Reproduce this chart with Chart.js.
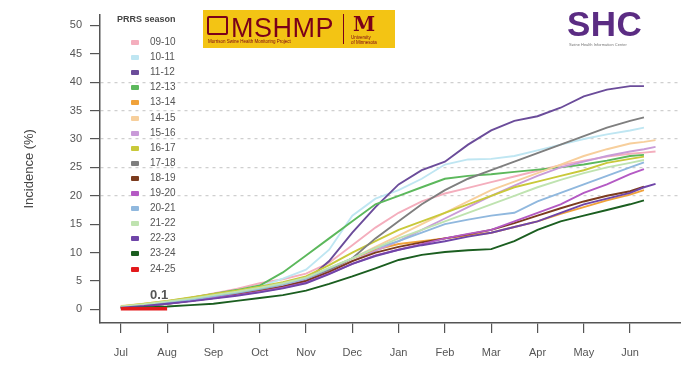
<!DOCTYPE html>
<html lang="en">
<head>
<meta charset="UTF-8">
<title>PRRS cumulative incidence by season</title>
<script src="https://cdn.jsdelivr.net/npm/chart.js"></script>
<style>
  body { margin: 0; background: #fff; font-family: "Liberation Sans", Arial, sans-serif; }
  #wrap { position: relative; width: 681px; height: 370px; overflow: hidden; }
  #legend { position: absolute; left: 112px; top: 12px; color: #555; }
  #legend .ttl { position: absolute; left: 5px; top: 2px; font-size: 9px; font-weight: bold; color: #444; white-space: nowrap; }
  #legend .row { position: absolute; left: 0; height: 12px; white-space: nowrap; font-size: 10px; }
  #legend .mk { position: absolute; left: 19px; top: 4px; width: 8px; height: 5px; border-radius: 1px; }
  #legend .lb { position: absolute; left: 38px; top: 0; }
  #mshmp { position: absolute; left: 203px; top: 10px; width: 192px; height: 38px; background: #f3c414; color: #7a0019; }
  #mshmp .icon { position: absolute; left: 4px; top: 6px; width: 17px; height: 15px; border: 2px solid #7a0019; border-radius: 2px; }
  #mshmp .big { position: absolute; left: 28px; top: 3px; font-size: 27px; letter-spacing: 0.5px; }
  #mshmp .sub { position: absolute; left: 5px; top: 29px; font-size: 4.5px; white-space: nowrap; }
  #mshmp .div { position: absolute; left: 140px; top: 4px; width: 1px; height: 30px; background: #7a0019; }
  #mshmp .m { position: absolute; left: 150px; top: 2px; font-size: 20px; font-weight: bold; font-family: "DejaVu Serif", serif; }
  #mshmp .umn { position: absolute; left: 148px; top: 25px; font-size: 4.5px; line-height: 5px; }
  #shc { position: absolute; left: 567px; top: 6px; width: 100px; color: #5b2c83; }
  #shc .big { font-size: 35px; font-weight: bold; line-height: 36px; letter-spacing: 0.5px; }
  #shc .sub { font-size: 4px; color: #777; white-space: nowrap; line-height: 5px; margin-left: 2px; }
</style>
</head>
<body>
<div id="wrap">
  <canvas id="chart" width="681" height="370"></canvas>
  <div id="legend"><div class="ttl">PRRS season</div></div>
  <div id="mshmp">
    <div class="icon"></div>
    <div class="big">MSHMP</div>
    <div class="sub">Morrison Swine Health Monitoring Project</div>
    <div class="div"></div>
    <div class="m">M</div>
    <div class="umn">University<br>of Minnesota</div>
  </div>
  <div id="shc">
    <div class="big">SHC</div>
    <div class="sub">Swine Health Information Center</div>
  </div>
</div>
<script>
// x positions in months since July 1
const months = [0, 0.5, 1, 1.5, 2, 2.5, 3, 3.5, 4, 4.5, 5, 5.5, 6, 6.5, 7, 7.5, 8, 8.5, 9, 9.5, 10, 10.5, 11, 11.3, 11.55];
const monthLabels = ['Jul', 'Aug', 'Sep', 'Oct', 'Nov', 'Dec', 'Jan', 'Feb', 'Mar', 'Apr', 'May', 'Jun'];
const yTicks = [0, 5, 10, 15, 20, 25, 30, 35, 40, 45, 50];

const seasons = ['09-10', '10-11', '11-12', '12-13', '13-14', '14-15', '15-16', '16-17',
                 '17-18', '18-19', '19-20', '20-21', '21-22', '22-23', '23-24', '24-25'];
const colors = ['#f4aebd', '#bfe6f2', '#6b4c9a', '#5cb85c', '#f0a23a', '#f7cf9c', '#c99bd8', '#c9c93a',
                '#7f7f7f', '#7b3b1e', '#b45ac4', '#90b8de', '#bfe3b0', '#6f45a8', '#1b5e20', '#e31a1c'];

// cumulative incidence (%), one array per season
const s0910 = [0.5, 0.9, 1.4, 2.0, 2.8, 3.6, 4.6, 5.3, 6.3, 8.2, 11.3, 14.4, 17.0, 19.0, 20.4, 21.4, 22.4, 23.4, 24.4, 25.4, 26.2, 26.9, 27.4, 27.6, 27.8];
const s1011 = [0.4, 0.8, 1.3, 1.9, 2.6, 3.3, 4.0, 5.4, 7.0, 10.5, 16.5, 19.5, 21.0, 23.0, 25.5, 26.4, 26.5, 27.0, 28.0, 29.0, 30.0, 30.8, 31.5, 32.0, null];
const s1112 = [0.3, 0.7, 1.2, 1.8, 2.4, 3.0, 3.6, 4.2, 5.0, 8.5, 13.5, 18.0, 22.0, 24.5, 26.0, 29.0, 31.5, 33.2, 34.0, 35.5, 37.5, 38.7, 39.3, 39.3, null];
const s1213 = [0.4, 0.9, 1.4, 2.0, 2.7, 3.4, 4.2, 6.5, 9.5, 12.5, 15.5, 18.5, 20.0, 21.5, 23.0, 23.5, 23.8, 24.2, 24.6, 25.0, 25.5, 26.2, 27.0, 27.2, null];
const s1314 = [0.3, 0.7, 1.1, 1.6, 2.1, 2.7, 3.3, 4.0, 5.0, 6.8, 9.0, 10.5, 11.5, 12.0, 12.5, 13.0, 13.5, 14.5, 15.5, 16.8, 18.0, 19.2, 20.2, 21.0, null];
const s1415 = [0.6, 1.0, 1.5, 2.0, 2.6, 3.2, 3.9, 4.6, 5.5, 7.2, 9.0, 11.0, 13.0, 15.0, 17.0, 19.0, 21.0, 22.5, 24.0, 25.5, 27.0, 28.2, 29.2, 29.5, 29.8];
const s1516 = [0.4, 0.8, 1.2, 1.7, 2.3, 2.9, 3.6, 4.3, 5.2, 6.8, 8.5, 10.3, 12.0, 14.0, 16.0, 18.0, 20.0, 21.8, 23.5, 25.0, 26.0, 27.0, 27.8, 28.2, 28.6];
const s1617 = [0.5, 1.0, 1.5, 2.1, 2.7, 3.3, 4.0, 4.8, 5.8, 7.8, 10.0, 12.0, 14.0, 15.5, 17.0, 18.5, 20.0, 21.5, 22.5, 23.5, 24.5, 25.8, 26.5, 26.9, null];
const s1718 = [0.3, 0.7, 1.2, 1.7, 2.3, 2.9, 3.5, 4.5, 5.5, 7.0, 9.0, 12.5, 15.5, 18.5, 21.0, 23.0, 24.5, 26.0, 27.5, 29.0, 30.5, 32.0, 33.2, 33.8, null];
const s1819 = [0.3, 0.6, 1.0, 1.5, 2.0, 2.6, 3.2, 4.0, 5.0, 6.6, 8.5, 10.0, 11.0, 11.8, 12.5, 13.2, 14.0, 15.2, 16.5, 17.8, 19.0, 20.0, 20.8, 21.6, null];
const s1920 = [0.3, 0.6, 1.0, 1.5, 2.0, 2.5, 3.1, 3.8, 4.7, 6.3, 8.0, 9.5, 10.5, 11.5, 12.5, 13.3, 14.0, 15.5, 17.0, 18.5, 20.5, 22.0, 23.8, 24.7, null];
const s2021 = [0.4, 0.8, 1.2, 1.7, 2.3, 2.9, 3.6, 4.4, 5.4, 7.2, 9.0, 10.8, 12.0, 13.5, 15.0, 15.8, 16.5, 17.0, 19.0, 20.5, 22.0, 23.5, 25.0, 25.9, null];
const s2122 = [0.5, 0.9, 1.4, 1.9, 2.5, 3.1, 3.8, 4.6, 5.6, 7.3, 9.0, 10.8, 12.5, 14.0, 15.5, 17.0, 18.5, 20.0, 21.5, 22.8, 24.0, 25.0, 25.8, 26.3, null];
const s2223 = [0.3, 0.6, 1.0, 1.4, 1.9, 2.4, 3.0, 3.7, 4.6, 6.2, 8.0, 9.4, 10.5, 11.3, 12.0, 12.8, 13.5, 14.5, 15.5, 17.0, 18.5, 19.5, 20.5, 21.5, 22.1];
const s2324 = [0.2, 0.35, 0.5, 0.75, 1.0, 1.5, 2.0, 2.5, 3.3, 4.5, 5.8, 7.2, 8.7, 9.6, 10.1, 10.4, 10.6, 12.0, 14.0, 15.5, 16.5, 17.5, 18.5, 19.2, null];
const s2425 = [0.1, 0.1, 0.1];
const seriesValues = [s0910, s1011, s1112, s1213, s1314, s1415, s1516, s1617,
                      s1718, s1819, s1920, s2021, s2122, s2223, s2324, s2425];
const currentLabel = '0.1';

// legend (html, sits over the plot like the R legend)
const legend = document.getElementById('legend');
seasons.forEach((s, i) => {
  const row = document.createElement('div');
  row.className = 'row';
  row.style.top = (24 + i * 15.1) + 'px';
  row.innerHTML = '<span class="mk" style="background:' + colors[i] + '"></span><span class="lb">' + s + '</span>';
  legend.appendChild(row);
});

const datasets = seasons.map((s, i) => ({
  label: s,
  data: seriesValues[i].map((v, j) => ({ x: months[j], y: v })),
  borderColor: colors[i],
  backgroundColor: colors[i],
  borderWidth: s === '24-25' ? 3.5 : 1.9,
  pointRadius: 0,
  tension: 0,
  spanGaps: false,
  order: seasons.length - i
}));

// "0.1" note next to the current season
const noteLabel = {
  id: 'noteLabel',
  afterDatasetsDraw(chart) {
    const { ctx, scales } = chart;
    const x = scales.x.getPixelForValue(months[2]) - 8;
    const y = scales.y.getPixelForValue(s2425[2]) - 13;
    ctx.save();
    ctx.font = 'bold 13px "Liberation Sans", Arial, sans-serif';
    ctx.fillStyle = '#555';
    ctx.textAlign = 'center';
    ctx.textBaseline = 'middle';
    ctx.fillText(currentLabel, x, y);
    ctx.restore();
  }
};

const axisColor = '#555';
new Chart(document.getElementById('chart'), {
  type: 'line',
  data: { datasets },
  plugins: [noteLabel],
  options: {
    responsive: false,
    devicePixelRatio: 1,
    animation: false,
    layout: { padding: { top: 6, right: 0, left: 0, bottom: 0 } },
    plugins: { legend: { display: false }, tooltip: { enabled: false } },
    scales: {
      x: {
        type: 'linear',
        min: -0.45,
        max: 12.1,
        afterBuildTicks: s => { s.ticks = monthLabels.map((m, i) => ({ value: i })); },
        afterFit: s => { s.height = 47; },
        ticks: {
          callback: v => monthLabels[v],
          color: axisColor,
          font: { family: '"Liberation Sans", Arial, sans-serif', size: 11 },
          padding: 13,
          autoSkip: false,
          maxRotation: 0
        },
        grid: { drawOnChartArea: false, tickLength: 10, tickColor: axisColor, lineWidth: 1.2 },
        border: { display: true, color: axisColor, width: 1.5 }
      },
      y: {
        min: -2.4,
        max: 51.9,
        afterBuildTicks: s => { s.ticks = yTicks.map(v => ({ value: v })); },
        afterFit: s => { s.width = 100; },
        ticks: {
          color: axisColor,
          font: { family: '"Liberation Sans", Arial, sans-serif', size: 11 },
          padding: 8
        },
        grid: {
          color: c => (c.tick && c.tick.value >= 20 && c.tick.value <= 40) ? '#cfcfcf' : 'rgba(0,0,0,0)',
          tickBorderDash: [],
          tickColor: axisColor,
          tickLength: 10,
          lineWidth: 1.2
        },
        border: { display: true, color: axisColor, width: 1.5, dash: [3, 4] },
        title: {
          display: true,
          text: 'Incidence (%)',
          color: '#444',
          font: { family: '"Liberation Sans", Arial, sans-serif', size: 13 },
          padding: { top: 22, bottom: 0 }
        }
      }
    }
  }
});
</script>
</body>
</html>
